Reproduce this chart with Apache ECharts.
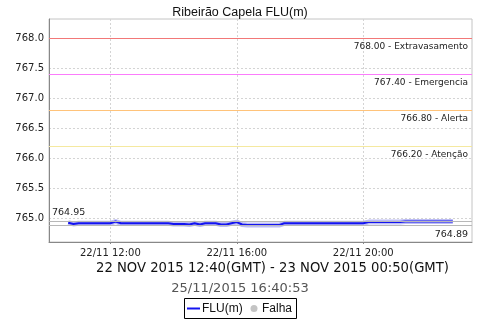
<!DOCTYPE html>
<html><head><meta charset="utf-8">
<script src="https://cdn.jsdelivr.net/npm/echarts@6/dist/echarts.min.js"></script>
<style>html,body{margin:0;padding:0;background:#fff}#c{width:480px;height:320px}</style>
</head><body><div id="c"></div>
<script>
// ---- data ----
var times = ["10:40","10:50","11:00","11:10","11:20","11:30","11:40","11:50","12:00","12:10",
"12:20","12:30","12:40","12:50","13:00","13:10","13:20","13:30","13:40","13:50",
"14:00","14:10","14:20","14:30","14:40","14:50","15:00","15:10","15:20","15:30",
"15:40","15:50","16:00","16:10","16:20","16:30","16:40","16:50","17:00","17:10",
"17:20","17:30","17:40","17:50","18:00","18:10","18:20","18:30","18:40","18:50",
"19:00","19:10","19:20","19:30","19:40","19:50","20:00","20:10","20:20","20:30",
"20:40","20:50","21:00","21:10","21:20","21:30","21:40","21:50","22:00","22:10",
"22:20","22:30","22:40","22:50"];
var levels = [764.93,764.91,764.92,764.92,764.92,764.92,764.92,764.92,764.92,764.95,
764.92,764.92,764.92,764.92,764.92,764.92,764.92,764.92,764.92,764.92,
764.91,764.91,764.91,764.90,764.92,764.90,764.92,764.92,764.92,764.90,
764.90,764.92,764.94,764.90,764.89,764.89,764.89,764.89,764.89,764.89,
764.89,764.92,764.92,764.92,764.92,764.92,764.92,764.92,764.92,764.92,
764.92,764.92,764.92,764.92,764.92,764.92,764.92,764.94,764.94,764.94,
764.94,764.94,764.94,764.94,764.95,764.95,764.95,764.95,764.95,764.95,
764.95,764.95,764.95,764.95];
var thresholdValues = [768.00, 767.40, 766.80, 766.20];
var thresholdNames = ["Extravasamento", "Emergencia", "Alerta", "Atenção"];
var thresholdColors = ["#f27878", "#fb7cfb", "#ffc37a", "#f5e9a0"];
var maxValue = 764.95;
var minValue = 764.89;
var yTicks = [765.0, 765.5, 766.0, 766.5, 767.0, 767.5, 768.0];
var xTicks = ["12:00", "16:00", "20:00"];
var xTickDay = "22/11";
var titleText = "Ribeirão Capela FLU(m)";
var periodText = "22 NOV 2015 12:40(GMT) - 23 NOV 2015 00:50(GMT)";
var stampText = "25/11/2015 16:40:53";
var legendNames = ["FLU(m)", "Falha"];

function toHours(s){var p=s.split(":");return +p[0]+(+p[1])/60;}
var seriesData = times.map(function(t,i){return [toHours(t), levels[i]];});
var xTickVals = xTicks.map(toHours);

var dv = "DejaVu Sans";
var thresholdLines = thresholdValues.map(function(v,i){
  return {yAxis: v, lineStyle:{color: thresholdColors[i], width:1, type:'solid', opacity:1},
    label:{show:true, position:'insideEndBottom', formatter: v.toFixed(2)+" - "+thresholdNames[i],
      color:'#222', fontFamily:dv, fontSize:9, distance:[4,4]}};
});
thresholdLines.push({yAxis:maxValue, lineStyle:{color:'#b8b8b8',width:1,type:'solid'},
  label:{show:true, position:'insideStartTop', formatter: maxValue.toFixed(2), color:'#222', fontFamily:dv, fontSize:9.5, distance:[3,4]}});
thresholdLines.push({yAxis:minValue, lineStyle:{color:'#b8b8b8',width:1,type:'solid'},
  label:{show:true, position:'insideEndBottom', formatter: minValue.toFixed(2), color:'#222', fontFamily:dv, fontSize:9.5, distance:[4,4]}});

var chart = echarts.init(document.getElementById('c'), null, {renderer:'canvas'});
chart.setOption({
  animation:false,
  backgroundColor:'#fff',
  title:{text:titleText, left:'center', top:1, textStyle:{fontFamily:'Liberation Sans', fontSize:12.5, fontWeight:'normal', color:'#111'}},
  grid:{left:49, right:8, top:19, bottom:78, show:true, borderColor:'#c4c4c4', borderWidth:1},
  xAxis:{type:'value', min:10.06, max:23.44,
    axisLine:{show:true, lineStyle:{color:'#888'}},
    axisTick:{show:true, length:2, customValues:xTickVals, lineStyle:{color:'#888'}},
    axisLabel:{customValues:xTickVals, margin:6, fontFamily:dv, fontSize:10, color:'#222',
      formatter:function(v){var h=Math.round(v);return xTickDay+" "+(h<10?"0":"")+h+":00";}},
    splitLine:{show:true, lineStyle:{color:'#d4d4d4', type:[2,2]}}},
  yAxis:{type:'value', min:764.608333, max:768.325,
    axisLine:{show:true, lineStyle:{color:'#888'}},
    axisTick:{show:false, customValues:yTicks},
    axisLabel:{customValues:yTicks, margin:5, fontFamily:dv, fontSize:10, color:'#222',
      formatter:function(v){return v.toFixed(1);}},
    splitLine:{show:true, lineStyle:{color:'#d4d4d4', type:[2,2]}}},
  graphic:[
    {type:'text', left:96, top:262, style:{text:periodText, font:'13.2px "DejaVu Sans"', fill:'#111'}},
    {type:'text', left:'center', top:282, style:{text:stampText, font:'13px "DejaVu Sans"', fill:'#555'}},
    {type:'rect', shape:{x:184.5, y:298.5, width:112, height:20}, style:{fill:'#fff', stroke:'#000', lineWidth:1}},
    {type:'line', shape:{x1:187, y1:308.5, x2:200, y2:308.5}, style:{stroke:'#1414f0', lineWidth:2}},
    {type:'text', x:202, y:308.5, style:{text:legendNames[0], font:'12px "Liberation Sans"', fill:'#111', verticalAlign:'middle'}},
    {type:'circle', shape:{cx:254, cy:308.5, r:3.5}, style:{fill:'#c4c4c4'}},
    {type:'text', x:262, y:308.5, style:{text:legendNames[1], font:'12px "Liberation Sans"', fill:'#111', verticalAlign:'middle'}}
  ],
  series:[
    {name:'halo', type:'line', data:seriesData, symbol:'none', silent:true,
      lineStyle:{color:'#bcbcf6', width:5}, z:2},
    {name:'FLU(m)', type:'line', data:seriesData, symbol:'none',
      lineStyle:{color:'#1414f0', width:2}, itemStyle:{color:'#1414f0'}, z:3,
      markLine:{silent:true, symbol:'none', data:thresholdLines}}
  ]
});
</script></body></html>
